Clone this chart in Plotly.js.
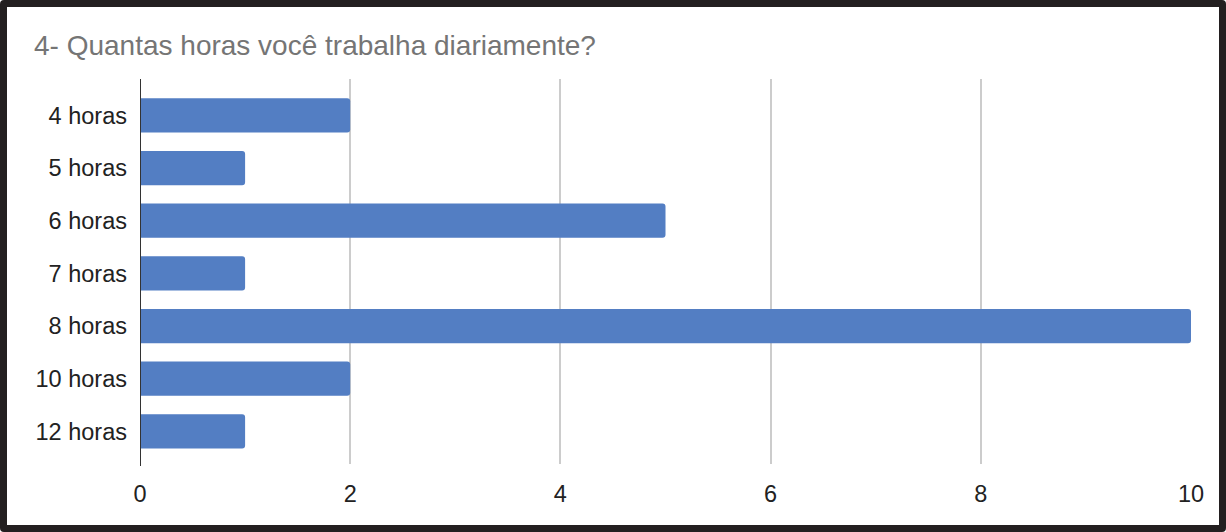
<!DOCTYPE html>
<html>
<head>
<meta charset="utf-8">
<script src="https://cdn.plot.ly/plotly-3.0.1.min.js"></script>
<style>
html,body{margin:0;padding:0;background:#fff;}
#wrap{position:relative;width:1226px;height:532px;}
#chart{width:1226px;height:532px;}
#frame{position:absolute;left:0;top:0;width:1226px;height:532px;box-sizing:border-box;border:7px solid #231f20;border-radius:4px;pointer-events:none;}
</style>
</head>
<body>
<div id="wrap"><div id="chart"></div><div id="frame"></div></div>
<script>
const categories = ["4 horas","5 horas","6 horas","7 horas","8 horas","10 horas","12 horas"];
const counts = [2,1,5,1,10,2,1];
const xTicks = [0,2,4,6,8,10];
const titleText = "4- Quantas horas você trabalha diariamente?";

const font = "Liberation Sans, Arial, sans-serif";
Plotly.newPlot("chart", [{
  type: "bar",
  orientation: "h",
  y: categories,
  x: counts,
  marker: {color: "#537ec3"},
  width: 0.65,
  hoverinfo: "x+y"
}], {
  width: 1226, height: 532,
  margin: {l: 140, r: 35, t: 79, b: 68, pad: 0},
  paper_bgcolor: "#fff", plot_bgcolor: "#fff",
  barcornerradius: 3,
  showlegend: false,
  title: {text: titleText, x: 34/1226, xref: "container", xanchor: "left",
    y: 1 - 45/532, yref: "container", yanchor: "middle",
    font: {family: font, size: 28, color: "#757575"}},
  xaxis: {
    range: [0, 10], tickvals: xTicks, ticktext: xTicks.map(String),
    showgrid: true, gridcolor: "#cccccc", gridwidth: 2,
    zeroline: false, showline: false, ticks: "",
    tickfont: {family: font, size: 23.5, color: "#222"},
    ticklabelstandoff: 13, fixedrange: true
  },
  yaxis: {
    type: "category", range: [6.62, -0.69],
    showgrid: false, zeroline: false, showline: false, ticks: "",
    tickfont: {family: font, size: 23.5, color: "#222"},
    ticklabelstandoff: 12, fixedrange: true
  },
  shapes: [{type: "line", xref: "x", yref: "paper", x0: 0, x1: 0, y0: -0.005, y1: 1,
    line: {color: "#333", width: 2}}]
}, {displayModeBar: false, staticPlot: true});
</script>
</body>
</html>
